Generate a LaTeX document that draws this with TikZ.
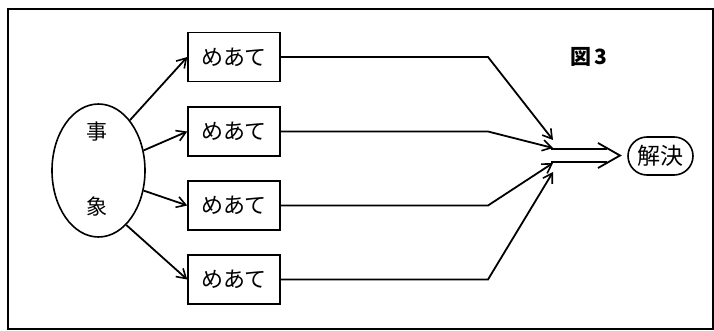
\documentclass[tikz,border=0pt]{standalone}
\usepackage{fontspec}
\newfontfamily\jp{Noto Sans CJK JP}
\usetikzlibrary{arrows.meta,shapes.geometric,shapes.misc}
\begin{document}
\begin{tikzpicture}[x=1pt,y=-1pt,line width=1.8pt,line join=miter,
  box/.style={draw,line width=1.5pt,minimum width=92pt,minimum height=49pt,inner sep=0pt,font=\jp\fontsize{22}{22}\selectfont},
  lbl/.style={inner sep=0pt,font=\jp\fontsize{21}{21}\selectfont},
  arr/.style={-{Straight Barb[length=9pt,width=11pt,line width=1.6pt]}}]
\useasboundingbox (0,0) rectangle (714,331);
\node[draw,line width=2.4pt,minimum width=705pt,minimum height=320pt,inner sep=0pt,anchor=north west] (frame) at (7,8) {};
% ellipse
\node[draw,ellipse,line width=1.6pt,minimum width=93pt,minimum height=133pt,inner sep=0pt] (ev) at (98.5,170.5) {};
\node[lbl] (t1) at (97,132) {事};
\node[lbl] (t2) at (97,207) {象};
% boxes
\node[box] (b1) at (234,57) {めあて};
\node[box] (b2) at (234,131.5) {めあて};
\node[box] (b3) at (234,205.5) {めあて};
\node[box] (b4) at (234,279.5) {めあて};
\draw[arr] (ev.58) -- (b1.west);
\draw[arr] (ev.24) -- (b2.west);
\draw[arr] (ev.-24) -- (b3.west);
\draw[arr] (ev.-63) -- (b4.west);
% merge
\coordinate (kx) at (488,0);
\coordinate (e1) at (553,140);
\coordinate (e2) at (553,148);
\coordinate (e3) at (553,163);
\coordinate (e4) at (553,172);
\draw[arr] (b1.east) -- (b1.east -| kx) -- (e1);
\draw[arr] (b2.east) -- (b2.east -| kx) -- (e2);
\draw[arr] (b3.east) -- (b3.east -| kx) -- (e3);
\draw[arr] (b4.east) -- (b4.east -| kx) -- (e4);
% double arrow
\coordinate (m1) at (551,149);
\coordinate (m2) at (551,162);
\coordinate (n1) at (607,149);
\coordinate (n2) at (607,162);
\coordinate (h1) at (598,143);
\coordinate (h2) at (598,168);
\coordinate (tip) at (620,155.5);
\draw (m1) -- (n1);
\draw (m2) -- (n2);
\draw (h1) -- (tip) -- (h2);
% result
\node[draw,line width=1.6pt,rounded rectangle,minimum width=65pt,minimum height=38pt,inner sep=0pt,font=\jp\fontsize{23}{23}\selectfont] (res) at (660.5,156) {解決};
% figure label
\node[inner sep=0pt,font=\jp\bfseries\fontsize{21}{21}\selectfont] (fig) at (589,57) {図\,3};
\end{tikzpicture}
\end{document}
